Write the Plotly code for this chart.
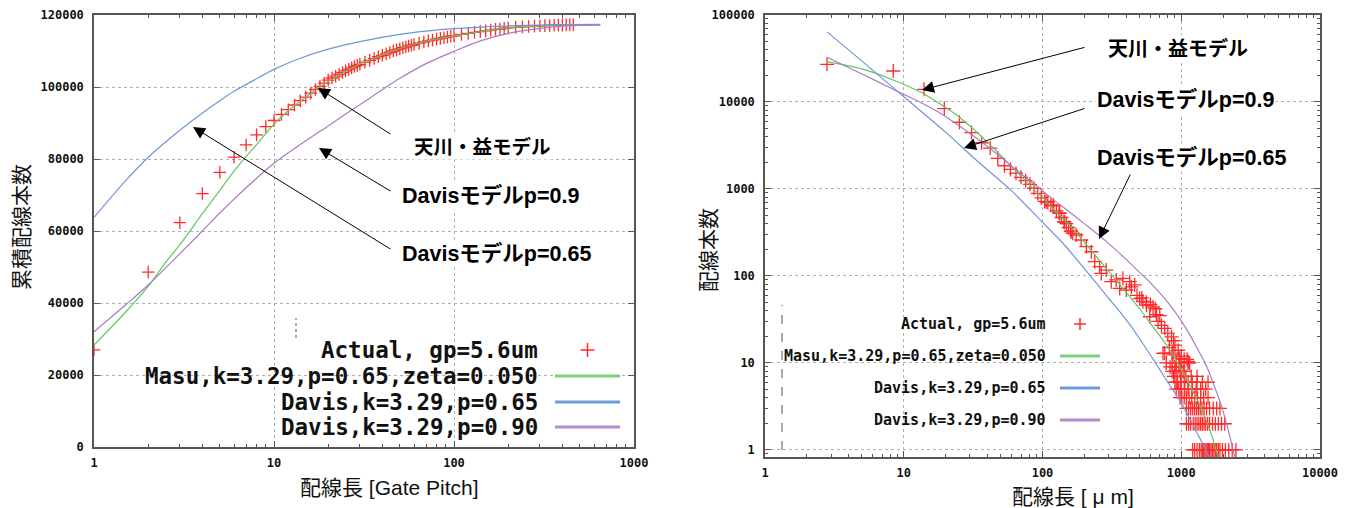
import math
import plotly.graph_objects as go

W, H = 1347, 508

# ---------------- Left chart (cumulative, gate pitch) ----------------
cum_len = [1, 2, 3, 4, 5, 6, 7, 8, 9, 10, 11, 12, 13, 14, 15, 16, 17, 18, 19, 20,
           21, 22, 23, 24, 25, 26, 27, 28, 29, 30,
           32, 34, 36, 38, 40, 42, 44, 46, 48, 50, 52, 54, 56, 58, 60,
           64, 68, 72, 76, 80, 84, 88, 92, 96, 100,
           110, 120, 130, 140, 150, 160, 170, 180, 190, 200,
           220, 240, 260, 280, 300, 320, 340, 360, 380, 400, 420, 440, 460]
cum_actual = [27000, 48600, 62300, 70400, 76300, 80500, 83900, 86700, 89000, 90700,
              92400, 93700, 95000, 96200, 97200, 98300, 99300, 100200, 101100, 101900,
              102500, 103000, 103500, 104000, 104500, 104900, 105300, 105700, 106000, 106300,
              106900, 107400, 107900, 108400, 108800, 109200, 109600, 110000, 110300, 110600,
              110900, 111100, 111400, 111600, 111800,
              112200, 112500, 112800, 113000, 113300, 113500, 113700, 113900, 114100, 114200,
              114600, 114900, 115200, 115400, 115600, 115800, 116000, 116100, 116300, 116400,
              116550, 116700, 116800, 116900, 117000, 117050, 117100, 117150, 117200, 117200,
              117250, 117300, 117300]

masu_cum_x = [1, 1.5, 2, 2.5, 3, 4, 5, 6, 7, 8, 10, 12, 15, 18, 22, 30, 40, 50, 70, 100,
              150, 200, 300, 400, 500]
masu_cum_y = [28300, 37500, 44600, 51300, 56200, 64800, 71300, 76600, 80700, 84000, 89700,
              93400, 97200, 100100, 102800, 106400, 108900, 110700, 112700, 114200, 115600,
              116400, 117000, 117200, 117300]

davis065_cum_x = [1, 1.5, 2, 3, 4, 5, 6, 8, 10, 14, 20, 30, 50, 70, 100, 150, 200, 300,
                  400, 650]
davis065_cum_y = [63800, 74000, 80500, 88000, 92800, 96200, 98800, 102300, 104900, 108000,
                  110500, 112600, 114600, 115500, 116200, 116700, 117000, 117200, 117300,
                  117400]

davis090_cum_x = [1, 1.5, 2, 3, 4, 5, 7, 10, 14, 20, 27, 35, 50, 70, 100, 140, 200, 300,
                  400, 500, 650]
davis090_cum_y = [32000, 39500, 45000, 53700, 60000, 65000, 72000, 78800, 84000, 89200,
                  93600, 97300, 102400, 106500, 109900, 112800, 114900, 116300, 116900,
                  117100, 117200]

left_yticks = [0, 20000, 40000, 60000, 80000, 100000, 120000]
left_xticks = [1, 10, 100, 1000]
right_xticks = [1, 10, 100, 1000, 10000]
right_yticks = [1, 10, 100, 1000, 10000, 100000]

# ---------------- Right chart (distribution, um) ----------------
dist_x = [2.8, 8.4, 14.0, 19.6, 25.2, 30.8, 36.4, 42.0, 47.6, 53.2, 58.8, 64.4, 70.0,
          75.6, 81.2, 86.8, 92.4, 98.0, 103.6, 109.2, 114.8, 120.4, 126.0, 131.6, 137.2,
          142.8, 148.4, 154.0, 159.6, 165.2,
          106, 119, 133, 144, 161, 175, 190, 207, 225, 238, 258, 265, 288, 313, 340, 380,
          425, 462, 437, 360, 402, 501, 530, 561, 626, 593, 662,
          480, 520, 560, 600, 650, 700, 680, 720, 760, 800, 850, 880, 900, 820, 760, 860,
          950, 1000, 1050, 1100, 1150, 739, 873, 975, 1120, 922, 1031,
          # count 10..6 rows
          780, 860, 920, 1000, 1120,
          830, 900, 960,
          860, 900, 980, 1050,
          880, 930, 1000, 1080, 1180, 1300,
          900, 940, 990, 1050, 1120, 1200, 1300, 1420, 1560,
          # count 5
          920, 960, 1000, 1060, 1120, 1200, 1280, 1380, 1500,
          # count 4
          980, 1010, 1050, 1090, 1140, 1190, 1250, 1310, 1380, 1450, 1560,
          # count 3
          1090, 1130, 1170, 1210, 1250, 1290, 1330, 1370, 1410, 1460, 1520, 1600, 1700,
          1800, 1900,
          # count 2
          1090, 1130, 1170, 1220, 1260, 1300, 1340, 1380, 1420, 1460, 1500, 1550, 1600,
          1680, 1760, 1850, 1950, 2060,
          # count 1
          1210, 1250, 1300, 1350, 1390, 1420, 1450, 1480, 1510, 1540, 1570, 1600, 1640,
          1680, 1720, 1760, 1800, 1850, 1900, 1980, 2080, 2200, 2330, 2480]
dist_y = [27100, 22700, 14000, 8400, 5850, 4450, 3400, 2950, 2250, 1850, 1680, 1520, 1360,
          1250, 1130, 1020, 890, 790, 720, 700, 650, 640, 560, 530, 470,
          420, 400, 360, 330, 310,
          714, 654, 525, 420, 323, 296, 259, 217, 190, 146, 128, 107, 117, 86, 90, 94,
          86, 79, 75, 72, 69, 55, 51, 46, 44, 34, 36,
          60, 56, 50, 47, 42, 35, 30, 27, 25, 22, 20, 18, 16, 15, 13, 13,
          14, 12, 11, 11, 10, 12.9, 12.4, 11.3, 10.4, 9, 8,
          10, 10, 10, 10, 10,
          9, 9, 9,
          8, 8, 8, 8,
          7, 7, 7, 7, 7, 7,
          6, 6, 6, 6, 6, 6, 6, 6, 6,
          5, 5, 5, 5, 5, 5, 5, 5, 5,
          4, 4, 4, 4, 4, 4, 4, 4, 4, 4, 4,
          3, 3, 3, 3, 3, 3, 3, 3, 3, 3, 3, 3, 3, 3, 3,
          2, 2, 2, 2, 2, 2, 2, 2, 2, 2, 2, 2, 2, 2, 2, 2, 2, 2,
          1, 1, 1, 1, 1, 1, 1, 1, 1, 1, 1, 1, 1, 1, 1, 1, 1, 1, 1, 1, 1, 1, 1, 1]

masu_x = [2.8, 5, 8.4, 13.7, 18, 24.3, 41, 61, 87.5, 100, 120, 144, 170, 207, 258, 320,
          400, 501, 626, 785, 975, 1122, 1300, 1478, 1650, 1845, 1900]
masu_y = [29100, 24000, 17900, 12600, 9660, 7000, 3350, 1750, 975, 800, 590, 440, 330,
          230, 150, 100, 65, 42, 26, 16, 9.06, 6.0, 3.8, 2.4, 1.5, 0.84, 0.75]

davis065_x = [2.8, 5, 11.1, 20, 35, 60, 95, 143, 211, 288, 370, 438, 501, 641, 800, 1000,
              1200, 1350, 1500, 1600, 1650]
davis065_y = [64000, 29500, 10000, 4500, 2000, 950, 450, 230, 110, 60, 37, 26, 19, 10.5,
              6.0, 3.5, 2.0, 1.4, 1.0, 0.8, 0.7]

davis090_x = [2.8, 5, 8.4, 17, 34.5, 70, 119, 143, 200, 288, 400, 500, 593, 760, 900, 1100,
              1295, 1520, 1718, 1900, 2000, 2200, 2430, 2480]
davis090_y = [32700, 21000, 14000, 8000, 3700, 1500, 760, 610, 400, 250, 155, 110, 85, 55,
              39, 24, 15, 9.2, 5.6, 3.6, 2.8, 1.6, 0.84, 0.75]

legend_labels = ["Actual, gp=5.6um", "Masu,k=3.29,p=0.65,zeta=0.050",
                 "Davis,k=3.29,p=0.65", "Davis,k=3.29,p=0.90"]

# ---------------- styling ----------------
RED = "#ff2b2b"
GREEN = "#62c662"
BLUE = "#6f97d8"
PURPLE = "#aa7cc4"
LEG_COLORS = ["#7fcf7f", "#6f9ad8", "#b28ccb"]
AXC = "#555555"
GRIDC = "#b0b0b0"
TICKFONT = dict(family="DejaVu Sans Mono", size=12, color="#111", weight="bold")
ANN_FAMILY = "Liberation Sans, Arial, Noto Sans CJK JP"
TITLEFONT = dict(family=ANN_FAMILY, size=21, color="#111")


def px(x):
    return x / W


def py(y):
    return 1 - y / H


fig = go.Figure()

# left traces
fig.add_trace(go.Scatter(x=cum_len, y=cum_actual, xaxis="x", yaxis="y", mode="markers",
                         marker=dict(symbol="cross-thin", size=9,
                                     line=dict(width=1.3, color=RED))))
for xs, ys, c in [(masu_cum_x, masu_cum_y, GREEN), (davis065_cum_x, davis065_cum_y, BLUE),
                  (davis090_cum_x, davis090_cum_y, PURPLE)]:
    fig.add_trace(go.Scatter(x=xs, y=ys, xaxis="x", yaxis="y", mode="lines",
                             line=dict(color=c, width=1.2, shape="spline", smoothing=0.8)))

# right traces
fig.add_trace(go.Scatter(x=dist_x, y=dist_y, xaxis="x2", yaxis="y2", mode="markers",
                         marker=dict(symbol="cross-thin", size=10,
                                     line=dict(width=1.3, color=RED))))
for xs, ys, c in [(masu_x, masu_y, GREEN), (davis065_x, davis065_y, BLUE),
                  (davis090_x, davis090_y, PURPLE)]:
    fig.add_trace(go.Scatter(x=xs, y=ys, xaxis="x2", yaxis="y2", mode="lines",
                             line=dict(color=c, width=1.2, shape="spline", smoothing=0.8)))

common = dict(showline=True, linecolor=AXC, linewidth=1.5, mirror="allticks",
              ticks="inside", ticklen=6, tickcolor=AXC, tickwidth=1,
              showgrid=True, gridcolor=GRIDC, griddash="dot", gridwidth=1,
              zeroline=False, tickfont=TICKFONT, automargin=False)
minor_log = dict(ticks="inside", ticklen=3, tickcolor=AXC, dtick="D1", showgrid=False)

fig.update_layout(
    width=W, height=H, margin=dict(l=0, r=0, t=0, b=0, pad=0), autosize=False,
    paper_bgcolor="white", plot_bgcolor="white", showlegend=False,
    xaxis=dict(domain=[px(94), px(634)], type="log", range=[0, 3], tickvals=left_xticks,
               ticktext=[str(v) for v in left_xticks], anchor="y", minor=minor_log,
               ticklabelstandoff=4, **common),
    yaxis=dict(domain=[py(447), py(15)], range=[0, 120000], tickvals=left_yticks,
               ticktext=[str(v) for v in left_yticks], anchor="x", ticklabelstandoff=6,
               **common),
    xaxis2=dict(domain=[px(765), px(1320)], type="log", range=[0, 4], tickvals=right_xticks,
                ticktext=[str(v) for v in right_xticks], anchor="y2", minor=minor_log,
                ticklabelstandoff=4, **common),
    yaxis2=dict(domain=[py(457), py(15)], type="log", range=[math.log10(0.83), 5],
                tickvals=right_yticks, ticktext=[str(v) for v in right_yticks], anchor="x2",
                minor=minor_log, ticklabelstandoff=6, **common),
)

shapes = []
# opaque key / label areas (cover grid only)
for (x0, y0, x1, y1) in [(140, 318, 632, 440), (783, 303, 1110, 456), (1020, 16, 1318, 110)]:
    shapes.append(dict(type="rect", xref="paper", yref="paper", x0=px(x0), x1=px(x1),
                       y0=py(y1), y1=py(y0), fillcolor="white", line=dict(width=0),
                       layer="between"))
# artifacts
shapes.append(dict(type="line", xref="paper", yref="paper", x0=px(782), x1=px(782),
                   y0=py(450), y1=py(305), line=dict(color="#555", width=1, dash="dash")))
shapes.append(dict(type="line", xref="paper", yref="paper", x0=px(296), x1=px(296),
                   y0=py(338), y1=py(318), line=dict(color="#aaa", width=2, dash="dot")))

annotations = []


def legend(xr, rows, s0, s1, fsize, cross):
    for i, lab in enumerate(legend_labels):
        annotations.append(dict(xref="paper", yref="paper", x=px(xr), y=py(rows[i]),
                                xanchor="right", yanchor="middle", text=lab, showarrow=False,
                                font=dict(family="DejaVu Sans Mono", size=fsize,
                                          color="#111", weight="bold")))
        if i == 0:
            cx = (s0 + s1) / 2
            shapes.append(dict(type="line", xref="paper", yref="paper", x0=px(cx - cross),
                               x1=px(cx + cross), y0=py(rows[0]), y1=py(rows[0]),
                               line=dict(color=RED, width=1.5)))
            shapes.append(dict(type="line", xref="paper", yref="paper", x0=px(cx), x1=px(cx),
                               y0=py(rows[0] - cross), y1=py(rows[0] + cross),
                               line=dict(color=RED, width=1.5)))
        else:
            shapes.append(dict(type="line", xref="paper", yref="paper", x0=px(s0), x1=px(s1),
                               y0=py(rows[i]), y1=py(rows[i]),
                               line=dict(color=LEG_COLORS[i - 1], width=3)))


legend(540, [350, 376, 402, 427], 555, 620, 22.5, 7)
legend(1048, [324, 356, 388, 420], 1060, 1100, 15, 6)


def label(x, y, text, size=21.5):
    annotations.append(dict(xref="paper", yref="paper", x=px(x), y=py(y), text=text,
                            xanchor="left", yanchor="middle", showarrow=False,
                            font=dict(family=ANN_FAMILY, size=size, color="black",
                                      weight="bold"),
                            bgcolor="white"))


def arrow(tail, head):
    annotations.append(dict(xref="paper", yref="paper", x=px(head[0]), y=py(head[1]),
                            ax=tail[0] - head[0], ay=tail[1] - head[1], text="",
                            showarrow=True, arrowhead=2, arrowsize=2.4, arrowwidth=1,
                            arrowcolor="black", standoff=0))


# left chart labels
label(412, 147, "天川・益モデル", 19.5)
label(400, 195, "Davisモデルp=0.9")
label(400, 253, "Davisモデルp=0.65")
arrow((392, 135), (318, 88))
arrow((392, 192), (319, 148))
arrow((392, 250), (193, 127))
# right chart labels
label(1106, 48, "天川・益モデル", 20)
label(1095, 99, "Davisモデルp=0.9")
label(1095, 157, "Davisモデルp=0.65")
arrow((1086, 47), (922, 90))
arrow((1086, 108), (964, 148))
arrow((1131, 173), (1099, 239))


def title(x, y, text, angle=0):
    annotations.append(dict(xref="paper", yref="paper", x=px(x), y=py(y), text=text,
                            textangle=angle, xanchor="center", yanchor="middle",
                            showarrow=False, font=TITLEFONT))


title(21, 227, "累積配線本数", -90)
title(389, 487, "配線長 [Gate Pitch]")
title(708, 250, "配線本数", -90)
title(1073, 496, "配線長 [ μ m]")

fig.update_layout(shapes=shapes, annotations=annotations)
fig.write_html("out.html", config={"responsive": False},
               post_script="document.body.style.margin='0px';"
                           "document.body.style.padding='0px';")
